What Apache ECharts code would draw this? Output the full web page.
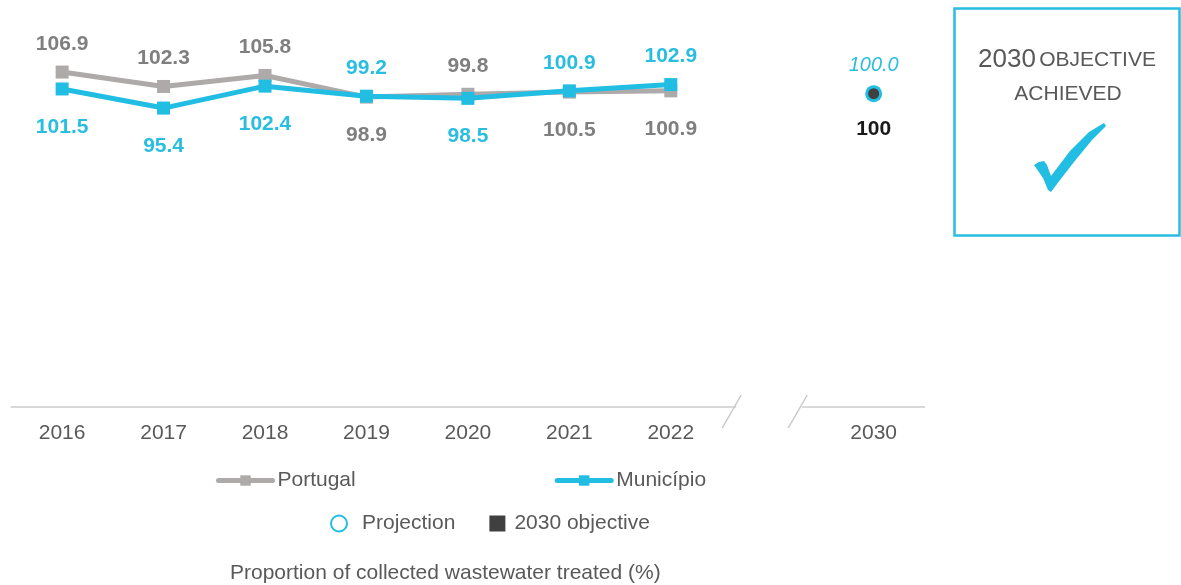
<!DOCTYPE html>
<html>
<head>
<meta charset="utf-8">
<script src="https://cdn.jsdelivr.net/npm/echarts@6/dist/echarts.min.js"></script>
<style>
  html, body { margin: 0; padding: 0; background: #ffffff; }
  #chart { width: 1181px; height: 585px; }
</style>
</head>
<body>
<div id="chart"></div>
<script>
// Years on the category axis; the blank slot marks the break before 2030
const years = ['2016', '2017', '2018', '2019', '2020', '2021', '2022', '', '2030'];
const portugal = [106.9, 102.3, 105.8, 98.9, 99.8, 100.5, 100.9, null, null];
const municipio = [101.5, 95.4, 102.4, 99.2, 98.5, 100.9, 102.9, null, null];
const projection = [null, null, null, null, null, null, null, null, 100.0];
const objective = [null, null, null, null, null, null, null, null, 100];

const GREY = '#aeaaaa';
const GREY_TEXT = '#7f7f7f';
const CYAN = '#22bde2';
const DARK = '#404040';
const TEXT = '#595959';
const FONT = '"Liberation Sans", Arial, sans-serif';

// The higher of the two series at each year gets its label above the point
function withLabels(values, other) {
  return values.map((v, i) => {
    if (v == null) return null;
    const above = v >= other[i];
    return {
      value: v,
      label: {
        position: above ? 'top' : 'bottom',
        distance: above ? 11 : 21
      }
    };
  });
}

const chart = echarts.init(document.getElementById('chart'), null, { renderer: 'canvas' });

const dataLabel = (color) => ({
  show: true,
  color: color,
  fontFamily: FONT,
  fontSize: 21,
  fontWeight: 'bold',
  formatter: (p) => Number(p.value).toFixed(1)
});

chart.setOption({
  animation: false,
  textStyle: { fontFamily: FONT },
  grid: { left: 11.4, right: 256.6, top: 31, bottom: 178 },
  xAxis: {
    type: 'category',
    data: years,
    boundaryGap: true,
    axisLine: { show: true, lineStyle: { color: '#d9d9d9', width: 2 } },
    axisTick: { show: false },
    axisLabel: { color: TEXT, fontSize: 21, fontFamily: FONT, margin: 16, interval: 0 },
    splitLine: { show: false }
  },
  yAxis: {
    type: 'value',
    min: 0,
    max: 120,
    show: false,
    splitLine: { show: false }
  },
  legend: [
    {
      data: ['Portugal', 'Município'],
      left: 211,
      top: 465,
      itemWidth: 54,
      itemHeight: 13,
      itemGap: 199,
      lineStyle: { width: 5, cap: 'round' },
      textStyle: { color: TEXT, fontSize: 21, fontFamily: FONT }
    },
    {
      data: [
        { name: 'Projection', textStyle: { padding: [0, 0, 0, 10] } },
        { name: '2030 objective', textStyle: { padding: [0, 0, 0, 4] } }
      ],
      left: 325,
      top: 508,
      itemWidth: 16,
      itemHeight: 16,
      itemGap: 34,
      textStyle: { color: TEXT, fontSize: 21, fontFamily: FONT }
    }
  ],
  title: {
    text: 'Proportion of collected wastewater treated (%)',
    left: 230,
    top: 563,
    padding: 0,
    textStyle: { color: TEXT, fontSize: 21, fontWeight: 'normal', fontFamily: FONT }
  },
  series: [
    {
      name: 'Portugal',
      type: 'line',
      data: withLabels(portugal, municipio),
      connectNulls: false,
      symbol: 'rect',
      symbolSize: 13,
      lineStyle: { color: GREY, width: 5 },
      itemStyle: { color: GREY },
      label: dataLabel(GREY_TEXT),
      z: 2
    },
    {
      name: 'Município',
      type: 'line',
      data: withLabels(municipio, portugal),
      connectNulls: false,
      symbol: 'rect',
      symbolSize: 13,
      lineStyle: { color: CYAN, width: 5 },
      itemStyle: { color: CYAN },
      label: dataLabel('#29bde0'),
      z: 3
    },
    {
      name: '2030 objective',
      type: 'scatter',
      data: objective,
      symbol: 'rect',
      symbolSize: 12,
      itemStyle: { color: DARK, opacity: 1 },
      label: {
        show: true,
        position: 'bottom',
        distance: 19,
        color: '#1a1a1a',
        fontFamily: FONT,
        fontSize: 21,
        fontWeight: 'bold',
        formatter: (p) => String(p.value)
      },
      z: 4
    },
    {
      name: 'Projection',
      type: 'scatter',
      data: projection,
      symbol: 'circle',
      symbolSize: 14,
      itemStyle: { color: 'rgba(0,0,0,0)', borderColor: CYAN, borderWidth: 3, opacity: 1 },
      label: {
        show: true,
        position: 'top',
        distance: 10,
        color: '#29bde0',
        fontFamily: FONT,
        fontSize: 20,
        fontStyle: 'italic',
        formatter: (p) => Number(p.value).toFixed(1)
      },
      z: 5
    }
  ]
});

// Axis break between 2022 and 2030, plus the "objective achieved" panel
function drawExtras() {
  const base = chart.convertToPixel({ gridIndex: 0 }, [7, 0]);
  const cx = base[0] - 3;
  const y = base[1];
  const half = 33;
  const slash = (x) => ({
    type: 'line',
    shape: { x1: x + 6, y1: y - 12, x2: x - 13, y2: y + 21 },
    style: { stroke: '#c8c8c8', lineWidth: 1.5 },
    z: 10
  });
  chart.setOption({
    graphic: [
      {
        type: 'rect',
        shape: { x: cx - half, y: y - 3, width: half * 2, height: 6 },
        style: { fill: '#ffffff' },
        z: 9
      },
      slash(cx - half - 1),
      slash(cx + half - 1),
      {
        type: 'rect',
        shape: { x: 954.5, y: 8.5, width: 225, height: 227 },
        style: { fill: '#ffffff', stroke: '#29bde0', lineWidth: 2.5 },
        z: 10
      },
      {
        type: 'text',
        x: 1067,
        y: 60,
        style: {
          text: '{big|2030} {small|OBJECTIVE}',
          align: 'center',
          verticalAlign: 'middle',
          rich: {
            big: { fontSize: 26, fontFamily: FONT, fill: TEXT },
            small: { fontSize: 21, fontFamily: FONT, fill: TEXT }
          }
        },
        z: 11
      },
      {
        type: 'text',
        x: 1068,
        y: 94,
        style: {
          text: 'ACHIEVED',
          align: 'center',
          verticalAlign: 'middle',
          fontSize: 21,
          fontFamily: FONT,
          fill: TEXT
        },
        z: 11
      },
      {
        type: 'polygon',
        shape: {
          points: [
            [1034, 165], [1039, 162], [1044, 161], [1047, 165],
            [1051, 176], [1070, 151], [1089, 132], [1104, 123],
            [1106, 126], [1092, 140], [1074, 162], [1060, 180],
            [1051, 192], [1048, 190], [1043, 178]
          ]
        },
        style: { fill: CYAN },
        z: 11
      }
    ]
  });
}
drawExtras();
</script>
</body>
</html>
